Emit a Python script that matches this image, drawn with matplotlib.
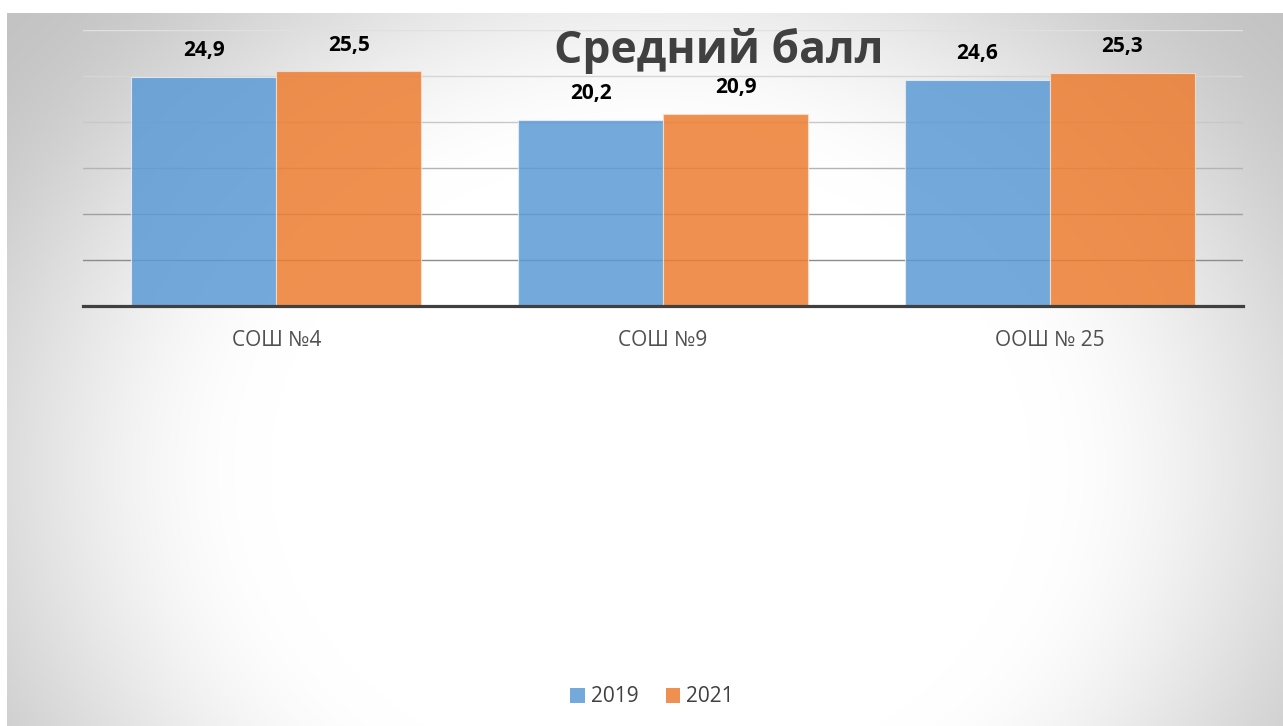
import numpy as np
import matplotlib
matplotlib.use("Agg")
import matplotlib.pyplot as plt
from matplotlib.patches import Patch

plt.rcParams['font.family'] = ['Open Sans', 'DejaVu Sans']

schools = ["СОШ №4", "СОШ №9", "ООШ № 25"]
years = ["2019", "2021"]
score_2019 = [24.9, 20.2, 24.6]
score_2021 = [25.5, 20.9, 25.3]
grid_vals = [5, 10, 15, 20, 25, 30]
grid_cols = ["#8c8c8c", "#a0a0a0", "#b4b4b4", "#c8c8c8", "#d6d6d6", "#e0e0e0"]

W, H = 1283, 726
fig = plt.figure(figsize=(W / 100, H / 100), dpi=100)
fig.patch.set_facecolor("white")

# radial gradient background (white middle, grey edges)
bg = fig.add_axes([7 / W, 0, (W - 7) / W, (H - 13) / H], zorder=0)
yy, xx = np.mgrid[13:H, 7:W]
d = np.sqrt((xx - 650) ** 2 + ((yy - 470) * 1.2) ** 2)
t = np.clip((d - 380) / 480, 0, 1)
shade = 255 - 60 * t * t * (3 - 2 * t)
img = np.dstack([shade, shade, shade]) / 255
bg.imshow(img, aspect="auto", interpolation="bilinear")
bg.axis("off")

ax = fig.add_axes([83 / W, (H - 306) / H, 1160 / W, 276 / H], zorder=1)
ax.patch.set_alpha(0)

x = np.arange(len(schools))
w = 0.375
colors = ["#5B9BD5", "#ED7D31"]
b1 = ax.bar(x - w / 2, score_2019, w, color=colors[0], alpha=0.85,
            edgecolor="#e8eef5", linewidth=0.8, zorder=3)
b2 = ax.bar(x + w / 2, score_2021, w, color=colors[1], alpha=0.85,
            edgecolor="#f5e0d0", linewidth=0.8, zorder=3)

for bars in (b1, b2):
    for r in bars:
        v = r.get_height()
        ax.annotate(f"{v:.1f}".replace(".", ","),
                    (r.get_x() + r.get_width() / 2, v),
                    xytext=(0, 19), textcoords="offset points",
                    ha="center", va="center", fontsize=15,
                    fontweight="bold", color="black", zorder=5)

for gv, gc in zip(grid_vals, grid_cols):
    ax.axhline(gv, color=gc, linewidth=1.0, zorder=1)

ax.set_xlim(-0.5, 2.5)
ax.set_ylim(0, 30)
ax.set_yticks([])
ax.set_xticks(x)
ax.set_xticklabels(schools, fontsize=15, color="#505050")
ax.tick_params(axis="x", bottom=False, pad=14)
for s in ["top", "right", "left"]:
    ax.spines[s].set_visible(False)
ax.spines["bottom"].set_color("#404040")
ax.spines["bottom"].set_linewidth(2.3)
ax.spines["bottom"].set_zorder(4)

fig.text(719 / W, 1 - 51 / H, "Средний балл", ha="center", va="center",
         fontsize=32, fontweight="bold", color="#404040", zorder=6)

handles = [Patch(facecolor=c, alpha=0.85, edgecolor="none") for c in colors]
fig.legend(handles, years, loc="center", bbox_to_anchor=(652 / W, 1 - 697 / H),
           ncol=2, frameon=False, fontsize=15, handlelength=0.7,
           handleheight=0.7, handletextpad=0.3, columnspacing=1.3,
           labelcolor="#404040")

fig.savefig("out.png", dpi=100)
